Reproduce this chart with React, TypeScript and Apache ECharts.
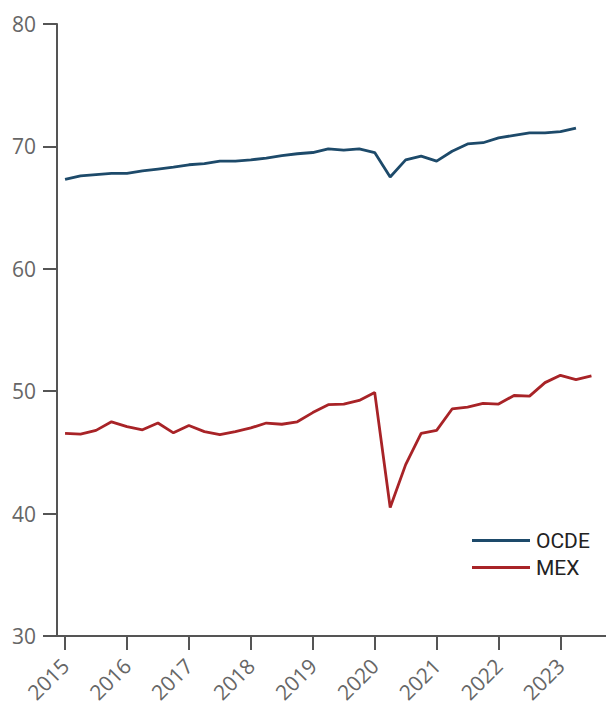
import React, { useEffect, useRef } from "react";
import * as echarts from "echarts";

const years = [2015, 2016, 2017, 2018, 2019, 2020, 2021, 2022, 2023];
const ocde = [
  67.3, 67.6, 67.7, 67.8, 67.8, 68.0, 68.15, 68.3, 68.5, 68.6, 68.8, 68.8,
  68.9, 69.05, 69.25, 69.4, 69.5, 69.8, 69.7, 69.8, 69.5, 67.5, 68.9, 69.2,
  68.8, 69.6, 70.2, 70.3, 70.7, 70.9, 71.1, 71.1, 71.2, 71.5,
];
const mex = [
  46.55, 46.5, 46.8, 47.5, 47.1, 46.85, 47.4, 46.6, 47.2, 46.7, 46.45, 46.7,
  47.0, 47.4, 47.3, 47.5, 48.25, 48.9, 48.95, 49.25, 49.9, 40.5, 44.0, 46.55,
  46.8, 48.55, 48.7, 49.0, 48.95, 49.65, 49.6, 50.7, 51.3, 50.95, 51.25,
];

const toPairs = (vals: number[]) =>
  vals.map((v, i) => [years[0] + i * 0.25, v]);

export default function App() {
  const ref = useRef<HTMLDivElement>(null);
  useEffect(() => {
    const chart = echarts.init(ref.current!, null, { renderer: "svg" });
    const axisColor = "#555555";
    const labelColor = "#666666";
    const font = "Open Sans";
    chart.setOption({
      animation: false,
      grid: {
        left: 57,
        right: 0,
        top: 24,
        bottom: 70,
        containLabel: false,
        outerBoundsMode: "none",
      },
      xAxis: {
        type: "value",
        min: 2014.87,
        max: 2023.735,
        axisLine: { show: true, lineStyle: { color: axisColor, width: 2 } },
        axisTick: {
          show: true,
          length: 14,
          lineStyle: { color: axisColor, width: 2 },
          customValues: years,
        },
        axisLabel: {
          customValues: years,
          rotate: 45,
          margin: 26,
          color: labelColor,
          fontSize: 21,
          fontFamily: font,
          formatter: (v: number) => String(Math.round(v)),
        },
        splitLine: { show: false },
      },
      yAxis: {
        type: "value",
        min: 30,
        max: 80,
        interval: 10,
        axisLine: { show: true, lineStyle: { color: axisColor, width: 2 } },
        axisTick: {
          show: true,
          length: 14,
          lineStyle: { color: axisColor, width: 2 },
        },
        axisLabel: {
          margin: 21,
          color: labelColor,
          fontSize: 21,
          fontFamily: font,
        },
        splitLine: { show: false },
      },
      legend: {
        orient: "vertical",
        left: 472,
        top: 530,
        padding: 0,
        itemWidth: 58,
        itemHeight: 3,
        itemGap: 6,
        icon: "rect",
        textStyle: {
          color: "#222222",
          fontSize: 21,
          lineHeight: 20,
          fontFamily: "Liberation Sans Narrow, Roboto, sans-serif",
          padding: [0, 0, 0, 1],
        },
        data: ["OCDE", "MEX"],
      },
      series: [
        {
          name: "OCDE",
          type: "line",
          data: toPairs(ocde),
          showSymbol: false,
          symbol: "none",
          lineStyle: { color: "#1d4a6a", width: 2.8 },
          itemStyle: { color: "#1d4a6a" },
        },
        {
          name: "MEX",
          type: "line",
          data: toPairs(mex),
          showSymbol: false,
          symbol: "none",
          lineStyle: { color: "#a82327", width: 2.8 },
          itemStyle: { color: "#a82327" },
        },
      ],
    });
    return () => chart.dispose();
  }, []);
  return (
    <div
      ref={ref}
      style={{ position: "absolute", left: 0, top: 0, width: 606, height: 706 }}
    />
  );
}
